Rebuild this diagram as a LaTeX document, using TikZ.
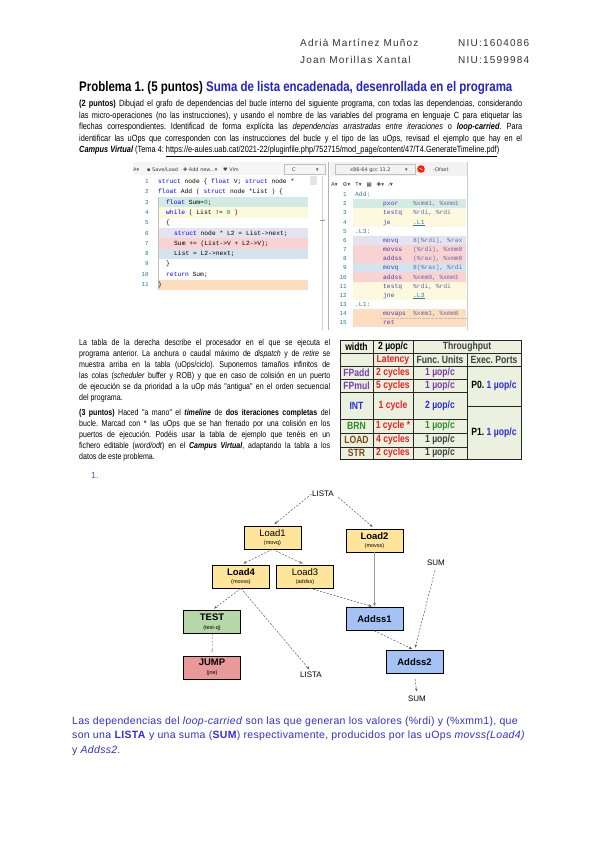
\documentclass[tikz,border=0pt]{standalone}
\usepackage{fontspec}
\setmainfont{Liberation Sans}
\newfontfamily\narrow[FakeStretch=0.82]{Liberation Sans}
\newfontfamily\spaced[LetterSpace=12]{Liberation Sans}
\newfontfamily\bluefont[LetterSpace=3]{Liberation Sans}
\newfontfamily\codefont{Liberation Mono}
\newfontfamily\symfont{DejaVu Sans}
\usetikzlibrary{arrows.meta,calc}
\frenchspacing
\definecolor{kw}{HTML}{0000FF}
\definecolor{lnum}{HTML}{237893}
\definecolor{numc}{HTML}{09885A}
\definecolor{bgG}{HTML}{D3ECE3}
\definecolor{bgY}{HTML}{FCF9DF}
\definecolor{bgL}{HTML}{E4E4F0}
\definecolor{bgP}{HTML}{F8D3D1}
\definecolor{bgB}{HTML}{D5E3EF}
\definecolor{bgO}{HTML}{FCDDBF}
\definecolor{asmop}{HTML}{4A3BB8}
\definecolor{asmarg}{HTML}{6A6AA8}
\definecolor{asmlbl}{HTML}{2E7D9A}
\definecolor{boxY}{HTML}{FFE599}
\definecolor{boxG}{HTML}{B6D7A8}
\definecolor{boxR}{HTML}{EA9999}
\definecolor{boxB}{HTML}{A4C2F4}
\definecolor{tblbg}{HTML}{EBF1DE}
\definecolor{ttlblue}{HTML}{2323C8}
\definecolor{txtblue}{HTML}{3030D0}
\definecolor{tpurp}{HTML}{7A3FB0}
\definecolor{tred}{HTML}{F02020}
\definecolor{tblue}{HTML}{2B2BD9}
\definecolor{tgreen}{HTML}{2E8B2E}
\definecolor{tbrown}{HTML}{7A4A1A}
\definecolor{tgray}{HTML}{404040}
\newcommand{\jl}[2]{\makebox[#1][s]{#2}}
\newcommand{\kw}[1]{\textcolor{kw}{#1}}
\newcommand{\nm}[1]{\textcolor{numc}{#1}}
\tikzset{
  hdr/.style={inner sep=0pt, anchor=base west, text=black!80, font=\spaced\fontsize{10}{12}\selectfont},
  para/.style={inner sep=0pt, anchor=base west, font=\narrow\fontsize{9}{11}\selectfont},
  parb/.style={inner sep=0pt, anchor=base west, font=\narrow\fontsize{8.6}{11}\selectfont},
  btxt/.style={inner sep=0pt, anchor=base west, text=txtblue, font=\bluefont\fontsize{10.5}{12}\selectfont},
  code/.style={inner sep=0pt, anchor=base west, font=\codefont\fontsize{6.3}{7}\selectfont},
  lno/.style={inner sep=0pt, anchor=base east, text=lnum, font=\codefont\fontsize{6}{7}\selectfont},
  tool/.style={inner sep=0pt, anchor=base west, text=black!75, font=\symfont\fontsize{5}{6}\selectfont},
  tcell/.style={inner sep=0pt, font=\narrow\bfseries\fontsize{10.5}{11}\selectfont},
  box/.style={draw=black, line width=0.8pt, minimum width=57pt, minimum height=23pt, inner sep=0pt, align=center, font=\fontsize{9.5}{10}\selectfont},
  lbl/.style={inner sep=0.5pt, font=\fontsize{8}{9}\selectfont},
  dep/.style={draw=black!65, dash pattern=on 2pt off 1.5pt, line width=0.5pt, -{Stealth[length=3.5pt,width=2.6pt]}, shorten >=2.5pt},
}
\newcommand{\sub}[1]{\\[-1.5pt]{\fontsize{5.5}{6}\selectfont\mdseries #1}}
\begin{document}
\begin{tikzpicture}[x=1pt,y=-1pt]
\useasboundingbox (0,0) rectangle (600,848);
\fill[white] (0,0) rectangle (600,848);

% header
\node[hdr] (a1) at (300,47) {Adrià Martínez Muñoz};
\node[hdr] (a2) at (458,47) {NIU:1604086};
\node[hdr] (a3) at (300,64) {Joan Morillas Xantal};
\node[hdr] (a4) at (458,64) {NIU:1599984};

% title
\node[inner sep=0pt, anchor=base west, font=\narrow\bfseries\fontsize{14}{16}\selectfont] (ttl) at (79,92)
  {Problema 1. (5 puntos) \textcolor{ttlblue}{Suma de lista encadenada, desenrollada en el programa}};

% paragraph 1
\node[para] (p1a) at (79,107) {\jl{443pt}{\textbf{(2 puntos)} Dibujad el grafo de dependencias del bucle interno del siguiente programa, con todas las dependencias, considerando}};
\node[para] (p1b) at (79,118.5) {\jl{443pt}{las micro-operaciones (no las instrucciones), y usando el nombre de las variables del programa en lenguaje C para etiquetar las}};
\node[para] (p1c) at (79,130) {\jl{443pt}{flechas correspondientes. Identificad de forma explícita las \textit{dependencias arrastradas entre iteraciones} o \textbf{\textit{loop-carried}}. Para}};
\node[para] (p1d) at (79,141.5) {\jl{443pt}{identificar las uOps que corresponden con las instrucciones del bucle y el tipo de las uOps, revisad el ejemplo que hay en el}};
\node[para] (p1e) at (79,153) {\textbf{\textit{Campus Virtual}} (Tema 4: \underline{https://e-aules.uab.cat/2021-22/pluginfile.php/752715/mod\_page/content/47/T4.GenerateTimeline.pdf})};

% ---------- code screenshot ----------
% left pane
\fill[black!4] (133,162) rectangle (327,175);
\node[tool] (tb1) at (133,171) {A▾};
\node[tool] (tb2) at (147,171) {▪ Save/Load};
\node[tool] (tb3) at (183,171) {✚ Add new...▾};
\node[tool] (tb4) at (223,171) {♥ Vim};
\draw[black!25, line width=0.4pt] (284,164) rectangle (325,174);
\node[tool] (tb5) at (292,171) {C};
\node[tool] (tb6) at (316,171) {▾};
\draw[black!20] (322,176) -- (322,330);
\draw[black!40, line width=0.8pt] (320,220) -- (325,220);
\fill[black!10] (310,176) rectangle (317,185);
% bands
\fill[bgG] (158,197) rectangle (308,207);
\fill[bgY] (158,207) rectangle (308,217.5);
\fill[bgL] (158,228) rectangle (308,238);
\fill[bgP] (158,238) rectangle (308,248.5);
\fill[bgB] (158,248.5) rectangle (308,258.5);
\fill[bgO] (158,279.5) rectangle (308,289.5);
\draw[black!25, line width=0.4pt] (158.2,197) -- (158.2,289.5);
% line numbers
\foreach \n/\yy in {1/183,2/193.5,3/204,4/214,5/224.5,6/235,7/245,8/255.5,9/265.5,10/276,11/286.5}
  \node[lno] (ln\n) at (149,\yy) {\n};
\node[code] (c1) at (158,183) {\kw{struct} node \{ \kw{float} V; \kw{struct} node *};
\node[code] (c2) at (158,193.5) {\kw{float} Add ( \kw{struct} node *List ) \{};
\node[code] (c3) at (166,204) {\kw{float} Sum=\nm{0};};
\node[code] (c4) at (166,214) {\kw{while} ( List != \nm{0} )};
\node[code] (c5) at (166,224.5) {\{};
\node[code] (c6) at (174,235) {\kw{struct} node * L2 = List->next;};
\node[code] (c7) at (174,245) {Sum += (List->V + L2->V);};
\node[code] (c8) at (174,255.5) {List = L2->next;};
\node[code] (c9) at (166,265.5) {\}};
\node[code] (c10) at (166,276) {\kw{return} Sum;};
\node[code] (c11) at (158,286.5) {\}};

% right pane
\draw[black!30, line width=0.6pt] (328,162) -- (328,330);
\fill[black!5] (330,162) rectangle (467,176);
\draw[black!25, line width=0.4pt] (335,164) rectangle (415,174);
\node[tool] (rt1) at (350,171) {x86-64 gcc 11.2};
\node[tool] (rt2) at (405,171) {▾};
\fill[red!75!orange] (421,169) circle (3.8pt);
\draw[white, line width=0.6pt] (419.5,168) -- (422.5,170);
\node[tool] (rt3) at (433,171) {-Ofast};
\node[tool, font=\symfont\fontsize{5.5}{6}\selectfont] (rt4) at (331,186) {A▾\hspace{5pt}⚙▾\hspace{5pt}T▾\hspace{5pt}▦\hspace{5pt}✚▾\hspace{5pt}⁄▾};
\draw[black!20] (467,162) -- (467,330);
% bands
\fill[bgG] (353,198.5) rectangle (466,207.5);
\fill[bgY] (353,207.5) rectangle (466,226.5);
\fill[bgL] (353,235.5) rectangle (466,244.5);
\fill[bgP] (353,244.5) rectangle (466,262.5);
\fill[bgB] (353,262.5) rectangle (466,272);
\fill[bgP] (353,272) rectangle (466,281.5);
\fill[bgY] (353,281.5) rectangle (466,299.5);
\fill[bgO] (353,308.5) rectangle (466,327);
\draw[black!25, densely dotted, line width=0.3pt] (380,318) -- (466,318);
\foreach \n/\yy in {1/196,2/205,3/214.5,4/224,5/233,6/242,7/251,8/260,9/269.5,10/279,11/288,12/297,13/306,14/315,15/324}
  \node[lno] (rn\n) at (347,\yy) {\n};
\node[code, text=asmlbl] (s1) at (355,196) {Add:};
\node[code, text=asmlbl] (s5) at (355,233) {.L3:};
\node[code, text=asmlbl] (s13) at (355,306) {.L1:};
\foreach \k/\yy/\op/\ar in {2/205/pxor/{\%xmm1, \%xmm1},3/214.5/testq/{\%rdi, \%rdi},6/242/movq/{8(\%rdi), \%rax},7/251/movss/{(\%rdi), \%xmm0},8/260/addss/{(\%rax), \%xmm0},9/269.5/movq/{8(\%rax), \%rdi},10/279/addss/{\%xmm0, \%xmm1},11/288/testq/{\%rdi, \%rdi},14/315/movaps/{\%xmm1, \%xmm0},15/324/ret/{}}{
  \node[code, text=asmop] (m\k) at (383,\yy) {\op};
  \node[code, text=asmarg] (o\k) at (413,\yy) {\ar};
}
\node[code, text=asmop] (m4) at (383,224) {je};
\node[code, text=asmlbl] (o4) at (413,224) {\underline{.L1}};
\node[code, text=asmop] (m12) at (383,297) {jne};
\node[code, text=asmlbl] (o12) at (413,297) {\underline{.L3}};

% ---------- left text beside the table ----------
\node[parb] (q1) at (79,345) {\jl{251pt}{La tabla de la derecha describe el procesador en el que se ejecuta el}};
\node[parb] (q2) at (79,356) {\jl{251pt}{programa anterior. La anchura o caudal máximo de \textit{dispatch} y de \textit{retire} se}};
\node[parb] (q3) at (79,367) {\jl{251pt}{muestra arriba en la tabla (uOps/ciclo). Suponemos tamaños infinitos de}};
\node[parb] (q4) at (79,378) {\jl{251pt}{las colas (\textit{scheduler} buffer y ROB) y que en caso de colisión en un puerto}};
\node[parb] (q5) at (79,389) {\jl{251pt}{de ejecución se da prioridad a la uOp más "antigua" en el orden secuencial}};
\node[parb] (q6) at (79,400) {del programa.};
\node[parb] (r1) at (79,415) {\jl{251pt}{\textbf{(3 puntos)} Haced "a mano" el \textbf{\textit{timeline}} de \textbf{dos iteraciones completas} del}};
\node[parb] (r2) at (79,426) {\jl{251pt}{bucle. Marcad con * las uOps que se han frenado por una colisión en los}};
\node[parb] (r3) at (79,437) {\jl{251pt}{puertos de ejecución. Podéis usar la tabla de ejemplo que tenéis en un}};
\node[parb] (r4) at (79,448) {\jl{251pt}{fichero editable (\textit{word/odt}) en el \textbf{\textit{Campus Virtual}}, adaptando la tabla a los}};
\node[parb] (r5) at (79,459) {datos de este problema.};

% ---------- table ----------
\fill[tblbg] (340,340) rectangle (521,459);
\begin{scope}[draw=black!85, line width=1pt]
\draw (340,340) rectangle (521,459);
\draw (340,353) -- (521,353);
\draw (340,366) -- (521,366);
\draw (340,379) -- (467,379);
\draw (340,392) -- (467,392);
\draw (467,406) -- (521,406);
\draw (340,419) -- (467,419);
\draw (340,433) -- (467,433);
\draw (340,447) -- (467,447);
\draw (373,340) -- (373,459);
\draw (413,340) -- (413,459);
\draw (467,353) -- (467,459);
\end{scope}
\node[tcell] (tw) at (356.5,346.5) {width};
\node[tcell] (tu) at (393,346.5) {2 µop/c};
\node[tcell, text=tgray] (tt) at (467,346.5) {Throughput};
\node[tcell, text=tred] (tl) at (393,359.5) {Latency};
\node[tcell, text=tgray] (tf) at (440,359.5) {Func. Units};
\node[tcell, text=tgray] (te) at (494,359.5) {Exec. Ports};
\node[tcell, text=tpurp] (fa) at (356.5,372.5) {FPadd};
\node[tcell, text=tred] (fa2) at (393,372.5) {2 cycles};
\node[tcell, text=tpurp] (fa3) at (440,372.5) {1 µop/c};
\node[tcell, text=tpurp] (fm) at (356.5,385.5) {FPmul};
\node[tcell, text=tred] (fm2) at (393,385.5) {5 cycles};
\node[tcell, text=tpurp] (fm3) at (440,385.5) {1 µop/c};
\node[tcell, text=tblue] (in) at (356.5,405.5) {INT};
\node[tcell, text=tred] (in2) at (393,405.5) {1 cycle};
\node[tcell, text=tblue] (in3) at (440,405.5) {2 µop/c};
\node[tcell, text=tgreen] (br) at (356.5,426) {BRN};
\node[tcell, text=tred] (br2) at (393,426) {1 cycle *};
\node[tcell, text=tgreen] (br3) at (440,426) {1 µop/c};
\node[tcell, text=tbrown] (ld) at (356.5,440) {LOAD};
\node[tcell, text=tred] (ld2) at (393,440) {4 cycles};
\node[tcell, text=tgray] (ld3) at (440,440) {1 µop/c};
\node[tcell, text=tbrown] (st) at (356.5,453) {STR};
\node[tcell, text=tred] (st2) at (393,453) {2 cycles};
\node[tcell, text=tgray] (st3) at (440,453) {1 µop/c};
\node[tcell] (p0) at (494,386) {P0. \textcolor{tblue}{1 µop/c}};
\node[tcell] (p1) at (494,432.5) {P1. \textcolor{tblue}{1 µop/c}};

% ---------- graph ----------
\node[inner sep=0pt, anchor=base west, text=txtblue!80!white, font=\fontsize{9}{10}\selectfont] (item) at (91,478) {1.};

\node[lbl] (lista1) at (323,494) {LISTA};
\node[box, fill=boxY] (load1) at (272.5,537.5) {Load1\sub{(movq)}};
\node[box, fill=boxY] (load2) at (374.5,540.5) {\textbf{Load2}\sub{(movss)}};
\node[box, fill=boxY] (load4) at (241,576.5) {\textbf{Load4}\sub{(movss)}};
\node[box, fill=boxY] (load3) at (305,576.5) {Load3\sub{(addss)}};
\node[lbl] (sum1) at (436,563) {SUM};
\node[box, fill=boxG] (test) at (212,622) {\textbf{TEST}\sub{(test-q)}};
\node[box, fill=boxR] (jump) at (212,667.5) {\textbf{JUMP}\sub{(jne)}};
\node[box, fill=boxB] (addss1) at (374.5,619) {\textbf{Addss1}};
\node[box, fill=boxB] (addss2) at (414.5,662) {\textbf{Addss2}};
\node[lbl] (lista2) at (311,675) {LISTA};
\node[lbl] (sum2) at (417,699) {SUM};

\draw[dep] (lista1.west) -- (load1.north);
\draw[dep, shorten <=5pt] (lista1.east) -- (load2.north);
\draw[dep] (load1.south) -- (load4.north);
\draw[dep] (load1.south) -- (load3.north);
\draw[dep] (load4.south) -- (test.north);
\draw[dep] (load4.south) -- (lista2.north);
\draw[dep] ([xshift=5pt]load3.south) -- (addss1.north);
\draw[draw=black!40, line width=1.4pt, -{Stealth[length=4pt,width=3.5pt]}, shorten >=0.5pt] (load2.south) -- (addss1.north);
\draw[dep] (addss1.south) -- (addss2.north);
\draw[dep, shorten <=4pt] (sum1.south) -- (addss2.north);
\draw[dep, draw=black!25] (test.south) -- (jump.north);
\draw[dep, shorten <=5pt, shorten >=4pt] (addss2.south) -- (sum2.north);

% ---------- bottom text ----------
\node[btxt] (b1) at (72,724) {Las dependencias del \textit{loop-carried} son las que generan los valores (\%rdi) y (\%xmm1), que};
\node[btxt] (b2) at (72,738.5) {son una \textbf{LISTA} y una suma (\textbf{SUM}) respectivamente, producidos por las uOps \textit{movss(Load4)}};
\node[btxt] (b3) at (72,753) {y \textit{Addss2}.};
\end{tikzpicture}
\end{document}
